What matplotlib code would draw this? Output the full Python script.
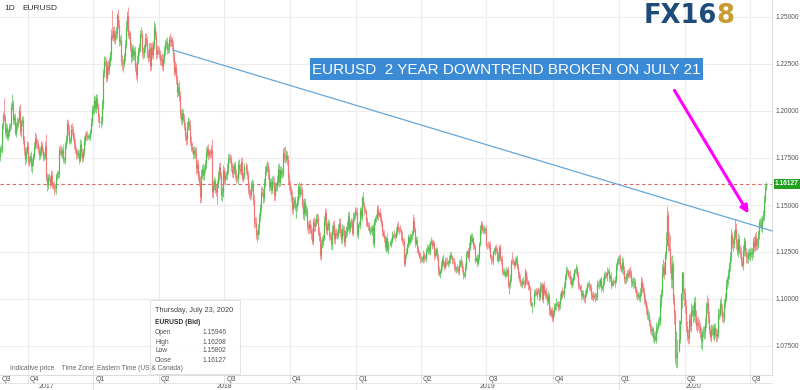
import sys
import numpy as np
import pandas as pd
import matplotlib
matplotlib.use("Agg")
import matplotlib.pyplot as plt
from matplotlib.collections import LineCollection
from matplotlib.patches import Rectangle, FancyArrowPatch
from matplotlib.transforms import blended_transform_factory

plt.rcParams["font.family"] = ["Liberation Sans", "DejaVu Sans"]

# ---------------- data ----------------
symbol = "EURUSD"
first_date, last_date = "2017-08-21", "2020-07-23"
first_open = 11761  # pips (1.1761)

# daily closes, in 1/10000 (11812 = 1.1812), one line per month
close_2017 = [
    11812, 11760, 11800, 11797, 11923, 11978, 11970, 11886, 11908,
    11860, 11888, 11917, 11919, 12024, 12036, 11951, 11966, 11885, 11921, 11942, 11950, 11998, 11893, 11939, 11950, 11846, 11792, 11745, 11787, 11813,
    11733, 11739, 11761, 11705, 11731, 11764, 11808, 11857, 11824, 11822, 11796, 11765, 11786, 11818, 11786, 11757, 11760, 11813, 11650, 11609, 11647, 11645,
    11617, 11661, 11608, 11608, 11590, 11589, 11653, 11665, 11665, 11796, 11793, 11772, 11792, 11737, 11737, 11822, 11852, 11934, 11898, 11843, 11847, 11904,
    11895, 11864, 11824, 11794, 11771, 11768, 11776, 11742, 11827, 11780, 11750, 11782, 11840, 11873, 11872, 11860, 11868, 11861, 11890, 11942, 12005,
]
close_2018 = [
    12010, 12058, 12015, 12068, 12029, 11968, 11937, 11948, 12035, 12200, 12265, 12262, 12178, 12240, 12220, 12262, 12298, 12406, 12395, 12427, 12383, 12410, 12415,
    12510, 12460, 12370, 12377, 12266, 12248, 12252, 12290, 12353, 12449, 12505, 12406, 12408, 12338, 12285, 12329, 12297, 12317, 12233, 12194,
    12268, 12318, 12337, 12409, 12412, 12313, 12307, 12336, 12388, 12369, 12302, 12288, 12337, 12241, 12343, 12300, 12353, 12448, 12401, 12305, 12323, 12322,
    12302, 12270, 12278, 12238, 12280, 12320, 12355, 12368, 12327, 12330, 12381, 12373, 12376, 12345, 12289, 12210, 12235, 12169, 12103, 12129, 12080,
    11991, 11951, 11989, 11960, 11921, 11865, 11850, 11917, 11942, 11925, 11837, 11810, 11795, 11770, 11790, 11777, 11695, 11720, 11655, 11623, 11540, 11665, 11693,
    11660, 11694, 11716, 11776, 11800, 11768, 11780, 11775, 11793, 11569, 11606, 11625, 11582, 11571, 11611, 11655, 11700, 11658, 11553, 11570, 11684,
    11632, 11658, 11658, 11693, 11747, 11749, 11743, 11708, 11671, 11686, 11711, 11660, 11641, 11640, 11718, 11690, 11683, 11730, 11646, 11658, 11705, 11692,
    11659, 11585, 11567, 11553, 11602, 11610, 11526, 11410, 11406, 11341, 11345, 11376, 11437, 11484, 11570, 11566, 11537, 11622, 11681, 11703, 11707, 11669, 11601,
    11621, 11582, 11627, 11624, 11552, 11595, 11601, 11627, 11692, 11623, 11685, 11666, 11672, 11778, 11748, 11747, 11765, 11738, 11643, 11604,
    11577, 11548, 11478, 11515, 11525, 11491, 11493, 11521, 11595, 11560, 11580, 11578, 11503, 11452, 11514, 11464, 11471, 11390, 11376, 11400, 11373, 11346, 11310,
    11409, 11387, 11406, 11429, 11429, 11363, 11336, 11234, 11293, 11309, 11327, 11414, 11455, 11368, 11389, 11402, 11337, 11334, 11290, 11366, 11393, 11318,
    11352, 11342, 11343, 11377, 11406, 11355, 11317, 11370, 11366, 11305, 11347, 11362, 11381, 11444, 11370, 11405, 11410, 11353, 11436, 11443, 11467,
]
close_2019 = [
    11465, 11345, 11393, 11394, 11472, 11441, 11540, 11502, 11467, 11469, 11414, 11393, 11387, 11364, 11366, 11363, 11384, 11298, 11407, 11429, 11435, 11480, 11447,
    11457, 11437, 11405, 11360, 11341, 11323, 11276, 11326, 11261, 11295, 11295, 11307, 11342, 11341, 11337, 11332, 11362, 11390, 11371, 11372,
    11365, 11339, 11307, 11306, 11193, 11234, 11247, 11289, 11328, 11305, 11325, 11338, 11351, 11415, 11373, 11297, 11312, 11266, 11251, 11226, 11218,
    11214, 11214, 11233, 11221, 11217, 11262, 11265, 11276, 11254, 11301, 11307, 11286, 11296, 11235, 11247, 11259, 11222, 11153, 11133, 11150, 11183, 11215,
    11193, 11172, 11201, 11199, 11191, 11195, 11215, 11234, 11224, 11205, 11203, 11174, 11157, 11164, 11160, 11151, 11180, 11204, 11192, 11153, 11130, 11131, 11169,
    11241, 11253, 11221, 11277, 11333, 11311, 11327, 11289, 11275, 11209, 11219, 11194, 11225, 11293, 11370, 11398, 11365, 11368, 11369, 11371,
    11286, 11285, 11284, 11286, 11226, 11212, 11206, 11251, 11253, 11271, 11259, 11210, 11225, 11275, 11219, 11208, 11151, 11139, 11146, 11127, 11143, 11154, 11075,
    11083, 11108, 11201, 11199, 11199, 11182, 11201, 11214, 11172, 11138, 11108, 11091, 11079, 11096, 11085, 11081, 11145, 11098, 11089, 11075, 11056, 10986,
    10969, 10974, 11034, 11036, 11027, 11045, 11044, 11010, 11064, 11073, 11000, 11072, 11030, 11043, 11017, 10990, 11020, 10941, 10922, 10939, 10899,
    10932, 10958, 10966, 10979, 10971, 10956, 10972, 11005, 11040, 11029, 11032, 11068, 11123, 11155, 11150, 11128, 11127, 11105, 11081, 11098, 11111, 11151, 11152,
    11166, 11128, 11075, 11067, 11053, 11019, 11032, 11008, 11006, 11022, 11052, 11073, 11078, 11071, 11058, 11022, 11011, 11020, 11008, 11010, 11017,
    11079, 11081, 11076, 11104, 11059, 11064, 11092, 11128, 11131, 11121, 11143, 11150, 11112, 11120, 11077, 11089, 11091, 11090, 11099, 11176, 11200, 11213,
]
close_2020 = [
    11213, 11172, 11159, 11196, 11152, 11104, 11105, 11120, 11136, 11127, 11150, 11136, 11091, 11095, 11083, 11090, 11052, 11025, 11018, 11020, 11010, 11031, 11093,
    11060, 11044, 11000, 10982, 10945, 10914, 10915, 10874, 10842, 10830, 10838, 10790, 10803, 10784, 10846, 10852, 10881, 10882, 10995, 11027,
    11136, 11172, 11135, 11238, 11285, 11449, 11284, 11268, 11173, 11106, 11185, 10996, 10919, 10688, 10694, 10722, 10788, 10884, 11033, 11141, 11041, 11031,
    10964, 10857, 10804, 10795, 10891, 10858, 10937, 10939, 10913, 10986, 10909, 10862, 10873, 10863, 10855, 10823, 10779, 10821, 10822, 10825, 10873, 10955,
    10981, 10906, 10838, 10796, 10836, 10839, 10808, 10849, 10817, 10803, 10820, 10918, 10922, 10980, 10947, 10902, 10901, 10977, 11007, 11079, 11104,
    11132, 11173, 11225, 11339, 11290, 11294, 11342, 11373, 11297, 11255, 11318, 11263, 11244, 11204, 11179, 11259, 11307, 11248, 11221, 11219, 11243, 11233,
    11251, 11239, 11246, 11309, 11275, 11331, 11286, 11299, 11342, 11408, 11410, 11383, 11428, 11444, 11528, 11595, 11613,
]

# wick lengths above / below the body, one base-36 digit per day, unit = 5 pips
up_2017 = "45343 3i365 3435b 54545 36845 54345 44354 35645 54453 345d4 45354 34434 34543 64345 45356 54535 43545 35344 23345"
dn_2017 = "43534 45463 34534 45354 53464 45643 45357 54345 45453 54357 54535 57464 44534 33454 54435 45354 45354 34453 23334"
up_2018 = ("45454 34565 56456 546q4 54626 54765 4565a 54645 56465 54746 45565 56454 64556 45465 54456 47545 56454 65454 "
           "54565 45654 54645 56546 45645 445c5 54645 56456 45465 54546 45654 56454 45546 45655 56454 45654 54546 45565 "
           "54656 45556 d5465 54654 54545 58465 56454 54645 45654 45545 65454 45645 45545 54654 45745 34354 4")
dn_2018 = ("45454 54645 45546 54545 45654 54568 45454 54645 54584 45456 54545 46545 54654 45545 54454 45546 54565 56454 "
           "45654 54545 45654 46545 54546 45456 545d4 54565 45456 54545 45546 54545 45456 54556 54856 45454 54565 45456 "
           "54545 45454 54565 45456 5c545 45456 54565 45456 54545 45454 54545 45654 54545 45465 54545 34344 4")
up_2019 = ("35243 42634 24353 52342 34425 43253 25343 42534 35242 53425 24352 37425 43252 35342 52435 24353 43524 35243 "
           "52434 24352 43525 35243 24534 52342 43253 34524 25343 42534 35242 53425 24352 a4253 43252 35342 52435 24353 "
           "43524 35243 52434 24352 43525 35243 24534 52342 43253 34524 25343 42534 35242 53425 24352 42534 3")
dn_2019 = ("43524 35242 52435 24353 43524 35243 52434 24352 43525 35343 24534 52342 43253 34524 25343 42534 35242 53425 "
           "24352 42534 34524 25343 42534 35242 53425 24352 43525 35243 24534 52342 43a53 34524 25343 42534 35242 93425 "
           "24352 42534 35243 44352 43525 35243 24534 52342 43253 34524 25343 42534 35242 53425 24352 42534 3")
up_2020 = ("45354 53445 35435 44353 35645 45356 34543 45634 565a8 53e94 eeba3 65rdk 10114 56576 78675 67576 56476 56856 "
           "46565 56475 46565 56465 57465 a6475 56465 45656 45545 46554 45465 22")
dn_2020 = ("54345 45453 34545 53454 45354 54545 45454 51453 45934 62516 37aa4 a7ac1 43g9e 86576 67586 75867 68a57 65675 "
           "35646 56565 46565 54565 56475 56465 56256 46565 54654 45565 54645 43")

last_bar_label = "Thursday, July 23, 2020"
last_open, last_high, last_low, last_close = 1.15946, 1.16208, 1.15802, 1.16127

y_ticks = [1.075, 1.100, 1.125, 1.150, 1.175, 1.200, 1.225, 1.250]
trend_points = [("2018-04-20", 1.2324), ("2020-07-21", 1.1375)]
headline = "EURUSD  2 YEAR DOWNTREND BROKEN ON JULY 21"

# ---------------- assemble OHLC ----------------
def wick(s):
    return np.array([int(ch, 36) for ch in s.replace(" ", "")]) * 0.0005

dates = pd.bdate_range(first_date, last_date)
for yr, c, u, d in [(2017, close_2017, up_2017, dn_2017), (2018, close_2018, up_2018, dn_2018),
                    (2019, close_2019, up_2019, dn_2019), (2020, close_2020, up_2020, dn_2020)]:
    nd = int((dates.year == yr).sum())
    lens = (len(c), len(u.replace(" ", "")), len(d.replace(" ", "")))
    if lens != (nd, nd, nd):
        print("length mismatch", yr, nd, lens, file=sys.stderr)

closes = np.array(close_2017 + close_2018 + close_2019 + close_2020) / 10000.0
up = np.concatenate([wick(up_2017), wick(up_2018), wick(up_2019), wick(up_2020)])
dn = np.concatenate([wick(dn_2017), wick(dn_2018), wick(dn_2019), wick(dn_2020)])
n = min(len(dates), len(closes), len(up), len(dn))
closes, up, dn = closes[:n], up[:n], dn[:n]
opens = np.r_[first_open / 10000.0, closes[:-1]]
highs = np.maximum(opens, closes) + up
lows = np.minimum(opens, closes) - dn
opens[-1], highs[-1], lows[-1], closes[-1] = last_open, last_high, last_low, last_close
idx = np.arange(n)

# ---------------- figure geometry ----------------
W, H = 800, 390
def fx(px): return px / W
def fy(py): return 1 - py / H

AX_R, AX_B = 772, 375
fig = plt.figure(figsize=(8, 3.9), dpi=100)
ax = fig.add_axes([0, fy(AX_B), fx(AX_R), AX_B / H])

def p_at(py):  # price at an image row
    return 1.25 - (py - 17) / 47.0 * 0.025

ax.set_ylim(p_at(AX_B), p_at(0))
ia = dates.get_loc(pd.Timestamp("2017-10-02"))
ib = dates.get_loc(pd.Timestamp("2020-07-01"))
scale = (750 - 28) / (ib - ia)  # pixels per bar
x0 = ia - 28 / scale
x1 = ia + (AX_R - 28) / scale
ax.set_xlim(x0, x1)

GRID = "#ececec"
ax.set_yticks(y_ticks)
ax.yaxis.grid(True, color=GRID, lw=0.8)
ax.set_axisbelow(True)
ax.set_xticks([])
ax.yaxis.tick_right()
ax.tick_params(axis="y", length=0, pad=2.2, labelsize=4.7, labelcolor="#555555")
ax.yaxis.set_major_formatter(matplotlib.ticker.FuncFormatter(lambda v, p: f"{v:.5f}"))
for s in ["top", "left"]:
    ax.spines[s].set_visible(False)
for s in ["right", "bottom"]:
    ax.spines[s].set_color("#dddddd")
    ax.spines[s].set_linewidth(0.8)

# quarter starts
qper = dates.to_period("Q")
qstarts = [i for i in range(1, n) if qper[i] != qper[i - 1]]
for i in qstarts:
    ax.axvline(i, color=GRID, lw=0.8, zorder=0)

# ---------------- candles ----------------
GREEN, RED = "#4cbf4c", "#f07474"
cols = np.where(closes >= opens, GREEN, RED)
wseg = np.stack([np.c_[idx, lows], np.c_[idx, highs]], axis=1)
bo = opens.copy()
bc = np.where(np.abs(closes - opens) < 0.0003, opens + 0.0003, closes)
bseg = np.stack([np.c_[idx, bo], np.c_[idx, bc]], axis=1)
ax.add_collection(LineCollection(wseg, colors=cols, linewidths=0.5, capstyle="butt", zorder=2))
ax.add_collection(LineCollection(bseg, colors=cols, linewidths=0.85, capstyle="butt", zorder=3))

# trend line
ta = dates.get_loc(pd.Timestamp(trend_points[0][0]))
tb = dates.get_loc(pd.Timestamp(trend_points[1][0]))
slope = (trend_points[1][1] - trend_points[0][1]) / (tb - ta)
ax.plot([ta, x1], [trend_points[0][1], trend_points[0][1] + slope * (x1 - ta)],
        color="#62a8dc", lw=0.9, zorder=4, clip_on=False)

# last price line + tag
ax.axhline(last_close, color="#e06666", lw=0.8, ls=(0, (3, 2.5)), zorder=1)
ax.text(1.004, last_close, f"{last_close:.5f}", transform=blended_transform_factory(ax.transAxes, ax.transData),
        ha="left", va="center", fontsize=4.8, color="white", fontweight="bold",
        bbox=dict(boxstyle="square,pad=0.22", fc="#22a022", ec="none"), zorder=6, clip_on=False)

# ---------------- time axis band ----------------
bt = blended_transform_factory(ax.transData, fig.transFigure)
fig.add_artist(plt.Line2D([0, fx(AX_R)], [fy(383), fy(383)], transform=fig.transFigure, color="#e4e4e4", lw=0.7))
ax.text(x0 + 2 / scale, fy(379.5), f"Q{qper[0].quarter}", transform=bt, ha="left", va="center",
        fontsize=5, color="#555555", clip_on=False)
for i in qstarts:
    is_year = dates[i].month == 1
    ax.plot([i, i], [fy(AX_B), fy(390 if is_year else 383)], transform=bt, color="#e4e4e4", lw=0.7, clip_on=False)
    ax.text(i + 2 / scale, fy(379.5), f"Q{qper[i].quarter}", transform=bt, ha="left", va="center",
            fontsize=5, color="#555555", clip_on=False)
for yr in sorted(set(dates.year)):
    ys = np.where(dates.year == yr)[0]
    a, b = max(x0, ys[0]), min(x1, ys[-1] + 1)
    ax.text((a + b) / 2, fy(387), str(yr), transform=bt, ha="center", va="center",
            fontsize=5, color="#555555", clip_on=False)

# ---------------- annotations ----------------
fig.text(fx(4), fy(8), "1D", fontsize=6, color="#333333", va="center")
fig.text(fx(22), fy(8), symbol, fontsize=6, color="#333333", va="center")

fig.text(fx(717), fy(16), "FX16", fontsize=18.5, fontweight="heavy", color="#1d4c7a",
         ha="right", va="center", family="DejaVu Sans")
fig.text(fx(716), fy(16), "8", fontsize=18.5, fontweight="heavy", color="#c99a30",
         ha="left", va="center", family="DejaVu Sans")

fig.add_artist(Rectangle((fx(310), fy(80)), fx(703) - fx(310), fy(58) - fy(80),
                         transform=fig.transFigure, fc="#3a8ad6", ec="none", zorder=5))
fig.text(fx(506.5), fy(69.5), headline, fontsize=11, color="white", ha="center", va="center", zorder=6)

fig.add_artist(FancyArrowPatch((fx(673), fy(88)), (fx(750), fy(216)), transform=fig.transFigure,
                               arrowstyle="-|>", mutation_scale=11, color="#ff00ff", lw=2.2, zorder=7))

# info box
fig.add_artist(Rectangle((fx(150), fy(374)), fx(240) - fx(150), fy(300) - fy(374),
                         transform=fig.transFigure, fc="white", ec="#dcdcdc", lw=0.6, alpha=0.95, zorder=5))
fig.text(fx(155), fy(310), last_bar_label, fontsize=5.3, color="#444444", va="center", zorder=6)
fig.text(fx(155), fy(323), f"{symbol} (Bid)", fontsize=4.8, color="#333333", fontweight="bold", va="center", zorder=6)
for k, (lab, val) in enumerate([("Open", last_open), ("High", last_high), ("Low", last_low), ("Close", last_close)]):
    fig.text(fx(155), fy(333 + 9 * k), lab, fontsize=4.8, color="#555555", va="center", zorder=6)
    fig.text(fx(203), fy(333 + 9 * k), f"{val:.5f}", fontsize=4.8, color="#555555", va="center", zorder=6)

fig.text(fx(10), fy(369), "Indicative price    Time Zone: Eastern Time (US & Canada)",
         fontsize=4.8, color="#666666", va="center", zorder=6)

fig.savefig("out.png", dpi=100)
